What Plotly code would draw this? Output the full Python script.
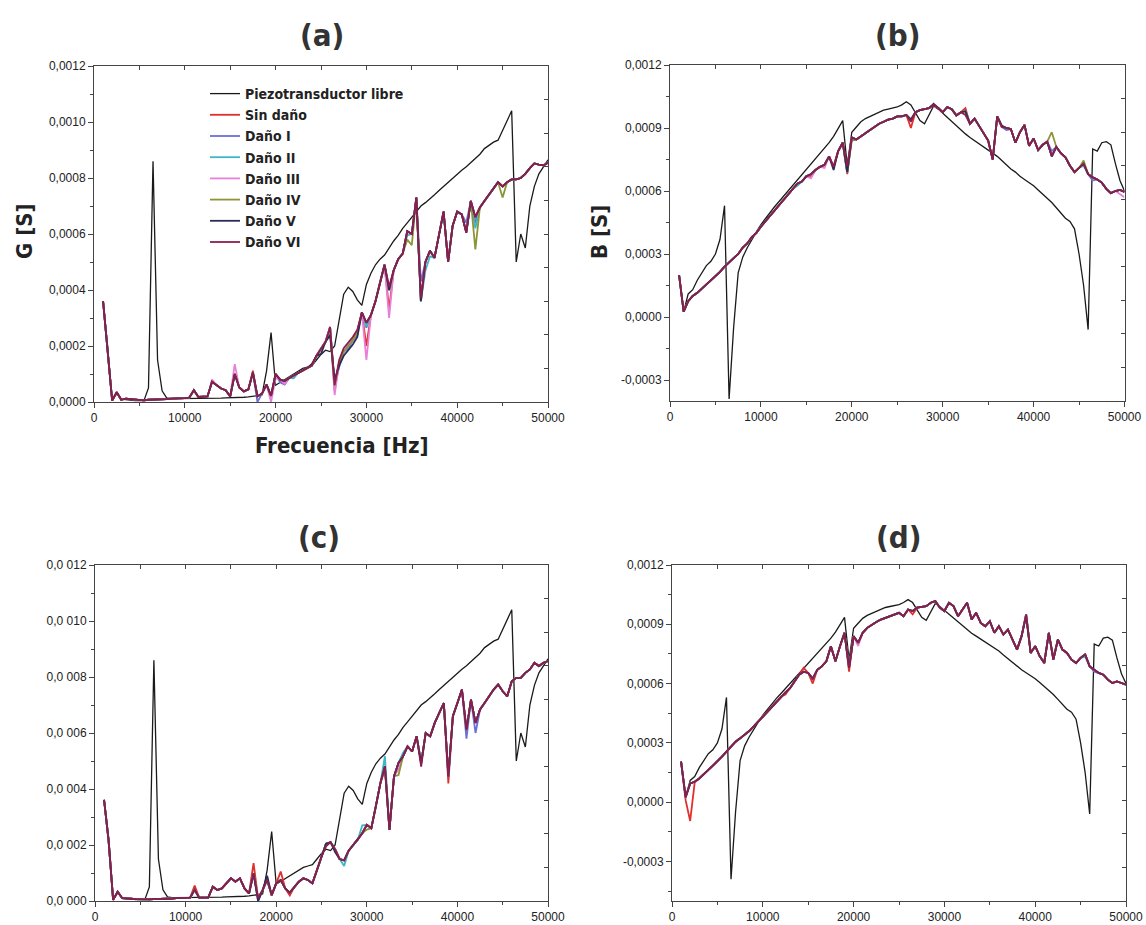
import plotly.graph_objects as go

# ---------------- data (values in micro-siemens) ----------------
FREQ = list(range(1000, 50001, 500))  # Hz, 99 points

SERIES_NAMES = ["Piezotransductor libre", "Sin daño", "Daño I", "Daño II",
                "Daño III", "Daño IV", "Daño V", "Daño VI"]
SERIES_COLORS = ["#1a1a1a", "#e0302c", "#6b6fd6", "#3fb6c6",
                 "#e880d8", "#8c9438", "#2c2c58", "#8a1f4f"]

# free piezo, conductance G
G_FREE = [360, 200, 5, 30, 10, 8, 6, 5, 5, 5,
          50, 860, 150, 40, 15, 12, 12, 12, 12, 12,
          12, 12, 12, 12, 13, 14, 14, 15, 15, 15,
          16, 17, 18, 20, 22, 25, 110, 248, 60, 70,
          80, 90, 100, 110, 120, 125, 130, 150, 170, 185,
          180, 200, 300, 385, 410, 395, 365, 345, 420, 460,
          490, 510, 525, 550, 575, 595, 620, 640, 660, 680,
          700, 712, 725, 740, 755, 770, 785, 800, 815, 828,
          840, 855, 870, 885, 905, 918, 928, 935, 970, 1000,
          1040, 500, 600, 550, 700, 770, 815, 840, 865]

# free piezo, susceptance B
B_FREE = [200, 24, 110, 130, 175, 210, 245, 265, 300, 370,
          530, -390, -50, 210, 285, 330, 370, 405, 440, 470,
          500, 525, 550, 575, 600, 625, 650, 675, 700, 725,
          750, 775, 800, 830, 860, 895, 935, 720, 880, 905,
          930, 945, 955, 965, 975, 985, 990, 995, 1000, 1010,
          1025, 1010, 970, 935, 920, 960, 1005, 990, 970, 950,
          930, 910, 890, 872, 855, 840, 825, 810, 795, 780,
          765, 745, 725, 705, 690, 670, 655, 640, 625, 605,
          585, 565, 545, 520, 495, 470, 455, 420, 300, 150,
          -60, 800, 790, 830, 835, 820, 730, 650, 600]

# bundle of damaged-structure curves, panel (a)
G_A_COMMON = [360, 190, 5, 35, 8, 12, 10, 8, 8, 6,
              8, 8, 8, 10, 10, 12, 12, 14, 14, 16,
              42, 18, 18, 20, 72, 60, 48, 42, 20, 100,
              52, 38, 45, 105, 20, 30, 62, 22, 100, 80,
              75, 86, 95, 105, 115, 122, 130, 165, 190, 215,
              268, 60, 140, 180, 200, 220, 250, 320, 283, 310,
              360, 430, 490, 400, 470, 510, 530, 610, 600, 730,
              360, 500, 540, 515, 600, 680, 500, 630, 680, 670,
              605, 718, 660, 695, 718, 740, 765, 785, 770, 785,
              795, 795, 800, 815, 835, 852, 848, 845, 855]

# bundle, panel (b)
B_B_COMMON = [200, 25, 75, 100, 115, 135, 155, 175, 195, 215,
              240, 260, 280, 300, 330, 350, 380, 400, 430, 455,
              480, 505, 530, 555, 585, 610, 635, 645, 670, 680,
              700, 715, 725, 765, 715, 790, 830, 690, 855, 845,
              860, 875, 890, 905, 920, 930, 940, 945, 955, 955,
              962, 940, 975, 985, 990, 995, 1010, 995, 975, 1000,
              990, 960, 975, 980, 920, 945, 910, 875, 840, 750,
              955, 905, 900, 895, 830, 880, 915, 815, 850, 795,
              820, 835, 765, 810, 780, 760, 720, 690, 710, 730,
              680, 665, 655, 640, 610, 590, 600, 605, 596]

# bundle, panel (c)
G_C_COMMON = [361, 218, 4, 33, 10, 8, 8, 7, 6, 6,
              6, 7, 7, 8, 8, 9, 10, 10, 11, 12,
              40, 12, 12, 12, 51, 39, 45, 63, 81, 69,
              81, 45, 27, 99, 10, 39, 75, 21, 63, 75,
              45, 30, 51, 69, 81, 75, 63, 111, 159, 205,
              210, 185, 150, 145, 180, 200, 218, 242, 272, 260,
              338, 421, 481, 254, 445, 493, 517, 552, 534, 588,
              493, 600, 588, 636, 672, 707, 445, 660, 707, 755,
              612, 719, 636, 684, 707, 731, 755, 773, 749, 731,
              785, 797, 797, 815, 827, 851, 839, 851, 857]

# bundle, panel (d)
B_D_COMMON = [205, 25, 95, 103, 120, 140, 163, 185, 205, 230,
              256, 280, 306, 323, 340, 360, 383, 408, 433, 458,
              484, 510, 535, 556, 577, 610, 645, 660, 654, 625,
              670, 687, 713, 789, 713, 789, 857, 679, 840, 806,
              857, 882, 899, 912, 924, 932, 941, 950, 958, 941,
              975, 967, 984, 988, 992, 1009, 1017, 984, 967, 1009,
              992, 941, 975, 1009, 924, 958, 907, 890, 916, 857,
              890, 848, 873, 823, 772, 840, 950, 755, 789, 738,
              704, 857, 721, 823, 772, 755, 721, 704, 730, 747,
              687, 670, 654, 645, 620, 603, 611, 603, 594]

# where single damaged curves leave the bundle (Hz: uS), order = SERIES_NAMES[1:]
G_A_DEV = [
    {26500: 40, 30000: 200, 17500: 112, 32500: 330},
    {18000: 0, 36000: 430, 41000: 640, 42000: 640, 27000: 125, 28000: 190, 29000: 240, 30000: 265, 20500: 70, 21000: 62},
    {36500: 470, 37000: 520, 42000: 620, 22000: 85, 30000: 270, 34500: 595},
    {15500: 135, 19500: 0, 26500: 25, 30000: 150, 32500: 300, 13000: 80, 20000: 85, 21000: 65, 31500: 420},
    {35000: 560, 42000: 545, 45000: 730, 34500: 580, 26000: 245},
    {26500: 80, 27000: 130, 27500: 165, 28000: 185, 28500: 205, 29000: 232, 24000: 136, 25000: 172, 26000: 238},
    {27000: 150, 27500: 192, 28000: 212, 28500: 232, 29000: 258, 36000: 372, 32500: 412},
]
B_B_DEV = [
    {26500: 900, 32500: 995, 15500: 665, 19500: 680},
    {46500: 650, 42000: 790, 37000: 890},
    {45500: 720, 14000: 625},
    {15500: 660, 17000: 710, 49500: 585, 50000: 570},
    {42000: 880, 45500: 745, 20000: 840},
    {18000: 700, 36500: 912, 29000: 1015},
    {26500: 930, 32500: 962, 19500: 720},
]
G_C_DEV = [
    {11000: 55, 17500: 135, 20500: 105, 21500: 20, 39000: 420, 32000: 470},
    {41000: 580, 42000: 600, 18000: 0},
    {32000: 517, 27500: 125, 29500: 270, 34000: 530},
    {33500: 470},
    {33500: 450, 30000: 255},
    {18000: 0, 19000: 90, 26500: 175},
    {25500: 195, 36000: 480},
]
B_D_DEV = [
    {1500: 10, 2000: -95, 2500: 100, 14500: 680, 15500: 600, 19500: 660, 12500: 545, 26500: 950},
    {46500: 660},
    {45500: 735, 41000: 715},
    {20500: 790},
    {42000: 735},
    {39000: 940},
    {},
]

X_TICKS = [0, 10000, 20000, 30000, 40000, 50000]
X_TICKTEXT = ["0", "10000", "20000", "30000", "40000", "50000"]
YA_TICKS = [0, 0.0002, 0.0004, 0.0006, 0.0008, 0.0010, 0.0012]
YA_TEXT = ["0,0000", "0,0002", "0,0004", "0,0006", "0,0008", "0,0010", "0,0012"]
YC_TEXT = ["0,0 000", "0,0 002", "0,0 004", "0,0 006", "0,0 008", "0,0 010", "0,0 012"]
YB_TICKS = [-0.0003, 0, 0.0003, 0.0006, 0.0009, 0.0012]
YB_TEXT = ["-0,0003", "0,0000", "0,0003", "0,0006", "0,0009", "0,0012"]

# ---------------- figure ----------------
W, H = 1146, 925
COND = "DejaVu Sans Condensed, Liberation Sans Narrow, Arial Narrow, sans-serif"
TICKFONT = dict(family="Liberation Sans, Arial, sans-serif", size=12, color="#222")


def build(common, dev):
    vals = list(common)
    for f, v in dev.items():
        vals[FREQ.index(f)] = v
    return [v * 1e-6 for v in vals]


fig = go.Figure()
panels = [
    ("x", "y", G_FREE, G_A_COMMON, G_A_DEV, True),
    ("x2", "y2", B_FREE, B_B_COMMON, B_B_DEV, False),
    ("x3", "y3", G_FREE, G_C_COMMON, G_C_DEV, False),
    ("x4", "y4", B_FREE, B_D_COMMON, B_D_DEV, False),
]
for xa, ya, free, common, devs, legend in panels:
    fig.add_trace(go.Scatter(x=FREQ, y=[v * 1e-6 for v in free], mode="lines",
                             name=SERIES_NAMES[0], line=dict(color=SERIES_COLORS[0], width=1.3),
                             xaxis=xa, yaxis=ya, showlegend=legend))
    for i, d in enumerate(devs):
        fig.add_trace(go.Scatter(x=FREQ, y=build(common, d), mode="lines",
                                 name=SERIES_NAMES[i + 1],
                                 line=dict(color=SERIES_COLORS[i + 1], width=1.8),
                                 xaxis=xa, yaxis=ya, showlegend=legend))


def px(v):
    return v / W


def py(v):
    return 1 - v / H


domains = {
    1: ([px(94), px(548)], [py(402), py(66)], [0, 0.0012], YA_TICKS, YA_TEXT, 0.0001),
    2: ([px(670), px(1124.5)], [py(401), py(65)], [-0.0004, 0.0012], YB_TICKS, YB_TEXT, 0.00015),
    3: ([px(95), px(548)], [py(901), py(565)], [0, 0.0012], YA_TICKS, YC_TEXT, 0.0001),
    4: ([px(672), px(1126)], [py(901), py(565)], [-0.0005, 0.0012], YB_TICKS, YB_TEXT, 0.00015),
}
axline = dict(showline=True, linecolor="#444", linewidth=1, showgrid=False, zeroline=False,
              automargin=False)
for k, (dx, dy, yr, yt, ytt, ymin) in domains.items():
    sx = "" if k == 1 else str(k)
    fig.update_layout(**{
        f"xaxis{sx}": dict(domain=dx, anchor=f"y{sx}", range=[0, 50000], tickmode="array",
                           tickvals=X_TICKS, ticktext=X_TICKTEXT, ticks="outside", ticklen=5,
                           tickcolor="#444", tickfont=TICKFONT,
                           minor=dict(tick0=0, dtick=5000, ticks="outside", ticklen=3, tickcolor="#444"),
                           **axline),
        f"yaxis{sx}": dict(domain=dy, anchor=f"x{sx}", range=yr, tickmode="array",
                           tickvals=yt, ticktext=ytt, ticks="outside", ticklen=5,
                           tickcolor="#444", tickfont=TICKFONT,
                           minor=dict(tick0=0, dtick=ymin, ticks="outside", ticklen=3, tickcolor="#444"),
                           **axline),
        f"xaxis{k + 4}": dict(overlaying=f"x{sx}", anchor=f"y{sx}", side="top", range=[0, 50000],
                              tickmode="linear", tick0=0, dtick=5000, ticks="inside", ticklen=4,
                              tickcolor="#444", showticklabels=False, **axline),
        f"yaxis{k + 4}": dict(overlaying=f"y{sx}", anchor=f"x{sx}", side="right", range=[0, 10],
                              tickmode="linear", tick0=0, dtick=1, ticks="inside", ticklen=4,
                              tickcolor="#444", showticklabels=False, **axline),
    })
    fig.add_trace(go.Scatter(x=[None], y=[None], xaxis=f"x{k + 4}", yaxis=f"y{sx}",
                             showlegend=False, hoverinfo="skip"))
    fig.add_trace(go.Scatter(x=[None], y=[None], xaxis=f"x{sx}", yaxis=f"y{k + 4}",
                             showlegend=False, hoverinfo="skip"))

TITLE_FONT = dict(family=COND, size=31, color="#333")
LABEL_FONT = dict(family=COND, size=22, color="#222")
ann = [
    dict(text="<b>(a)</b>", x=px(322), y=py(35), font=TITLE_FONT),
    dict(text="<b>(b)</b>", x=px(897), y=py(35), font=TITLE_FONT),
    dict(text="<b>(c)</b>", x=px(319), y=py(537), font=TITLE_FONT),
    dict(text="<b>(d)</b>", x=px(898), y=py(537), font=TITLE_FONT),
    dict(text="<b>Frecuencia [Hz]</b>", x=px(342), y=py(445), font=LABEL_FONT),
    dict(text="<b>G [S]</b>", x=px(24), y=py(232), textangle=-90, font=LABEL_FONT),
    dict(text="<b>B [S]</b>", x=px(599), y=py(232), textangle=-90, font=LABEL_FONT),
]
for a in ann:
    a.update(xref="paper", yref="paper", showarrow=False, xanchor="center", yanchor="middle")

fig.update_layout(
    width=W, height=H, margin=dict(l=0, r=0, t=0, b=0, pad=0, autoexpand=False),
    paper_bgcolor="white", plot_bgcolor="white",
    annotations=ann,
    showlegend=True,
    legend=dict(x=px(205), y=py(78), xanchor="left", yanchor="top",
                bgcolor="rgba(0,0,0,0)", borderwidth=0, tracegroupgap=0,
                font=dict(family=COND, size=14, color="#222", weight="bold"),
                itemwidth=30),
)
fig.write_html("out.html", config={"responsive": False, "displayModeBar": False},
               post_script="document.body.style.margin='0';document.body.style.overflow='hidden';")
